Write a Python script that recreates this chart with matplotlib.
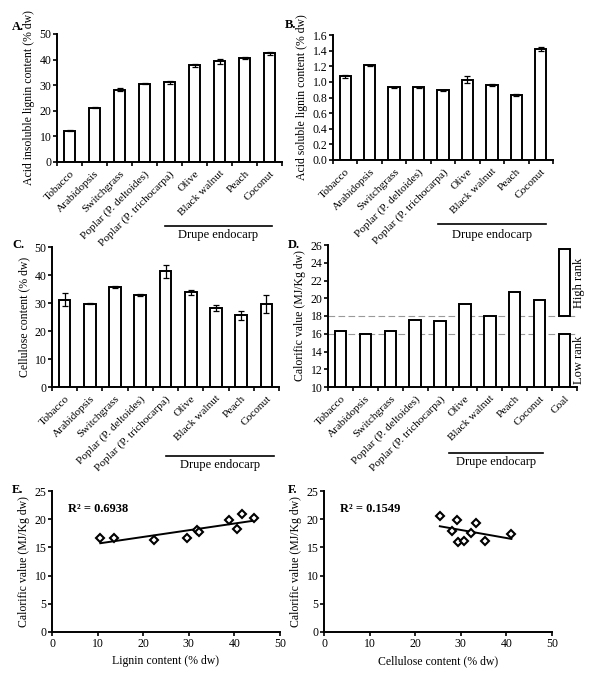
import matplotlib
matplotlib.use("Agg")
import matplotlib.pyplot as plt
import numpy as np

plt.rcParams['font.family'] = ['Liberation Serif', 'DejaVu Serif']

species = ["Tobacco", "Arabidopsis", "Switchgrass", "Poplar (P. deltoides)",
           "Poplar (P. trichocarpa)", "Olive", "Black walnut", "Peach", "Coconut"]
species_coal = species + ["Coal"]

lignin_insol = [12.3, 21.2, 28.3, 30.6, 31.1, 37.8, 39.3, 40.7, 42.4]
lignin_insol_err = [0.2, 0.3, 0.6, 0.2, 0.6, 0.6, 1.0, 0.3, 0.5]

lignin_sol = [1.07, 1.21, 0.93, 0.93, 0.89, 1.03, 0.96, 0.83, 1.42]
lignin_sol_err = [0.02, 0.01, 0.01, 0.01, 0.005, 0.04, 0.01, 0.01, 0.03]

cellulose = [31.2, 29.8, 35.8, 32.8, 41.3, 33.8, 28.2, 25.6, 29.7]
cellulose_err = [2.3, 0.3, 0.3, 0.3, 2.3, 1.0, 1.2, 1.6, 3.1]

calorific = [16.3, 16.0, 16.3, 17.6, 17.4, 19.4, 18.0, 20.7, 19.8]
coal_low = (10.0, 16.0)
coal_high = (18.0, 25.5)

e_lignin = [10.6, 13.6, 22.4, 29.6, 31.8, 32.3, 38.9, 40.5, 41.6, 44.2]
e_cal = [16.6, 16.6, 16.3, 16.6, 18.0, 17.8, 19.8, 18.3, 20.9, 20.2]

f_cell = [25.4, 28.0, 29.2, 29.4, 30.7, 32.3, 33.4, 35.4, 41.1]
f_cal = [20.5, 17.9, 19.8, 15.9, 16.2, 17.5, 19.4, 16.2, 17.3]

W, H = 600, 675
fig = plt.figure(figsize=(W / 100, H / 100), dpi=100)


def ax_px(l, t, r, b):
    return fig.add_axes([l / W, 1 - b / H, (r - l) / W, (b - t) / H])


TICK_FS = 8.5
CAT_FS = 8.2
LAB_FS = 8.5


def style(ax):
    for s in ['top', 'right']:
        ax.spines[s].set_visible(False)
    for s in ['left', 'bottom']:
        ax.spines[s].set_linewidth(1.4)
    ax.tick_params(axis='both', which='both', direction='out', width=1.2,
                   length=3, labelsize=TICK_FS, pad=1)


def bar_panel(ax, cats, vals, errs, ylim, yticks, yfmt):
    n = len(cats)
    x = np.arange(len(vals))
    ax.bar(x, vals, width=0.46, color='white', edgecolor='black', linewidth=1.4,
           zorder=2)
    if errs is not None:
        ax.errorbar(x, vals, yerr=errs, fmt='none', ecolor='black',
                    elinewidth=0.9, capsize=2.2, capthick=0.9, zorder=3)
    ax.set_xlim(-0.5, n - 0.5)
    ax.set_ylim(*ylim)
    ax.set_yticks(yticks)
    ax.set_yticklabels([yfmt.format(v) for v in yticks])
    ax.set_xticks(np.arange(n))
    ax.set_xticklabels(cats, rotation=45, ha='right', rotation_mode='anchor',
                       fontsize=CAT_FS)
    ax.set_xticks(np.arange(n + 1) - 0.5, minor=True)
    style(ax)
    ax.tick_params(axis='x', which='major', length=0, pad=5, labelsize=CAT_FS)
    ax.tick_params(axis='x', which='minor', length=3)


def drupe(ax, x0, x1, yl, yt):
    tr = matplotlib.transforms.blended_transform_factory(ax.transData, ax.transAxes)
    ax.plot([x0, x1], [yl, yl], color='black', lw=1.2, transform=tr, clip_on=False)
    ax.text((x0 + x1) / 2, yt, "Drupe endocarp", transform=tr, ha='center',
            va='center', fontsize=9)


# A
axA = ax_px(57, 34, 282, 162)
bar_panel(axA, species, lignin_insol, lignin_insol_err, (0, 50),
          [0, 10, 20, 30, 40, 50], "{:.0f}")
axA.set_ylabel("Acid insoluble lignin content (% dw)", fontsize=LAB_FS, labelpad=3)
drupe(axA, 3.8, 8.1, -0.5, -0.57)
fig.text(12 / W, 1 - 27 / H, "A.", fontsize=9, fontweight='bold', va='center')

# B
axB = ax_px(333, 35, 553, 160)
bar_panel(axB, species, lignin_sol, lignin_sol_err, (0, 1.6),
          [0.0, 0.2, 0.4, 0.6, 0.8, 1.0, 1.2, 1.4, 1.6], "{:.1f}")
axB.set_ylabel("Acid soluble lignin content (% dw)", fontsize=LAB_FS, labelpad=3)
drupe(axB, 3.8, 8.2, -0.51, -0.6)
fig.text(285 / W, 1 - 25 / H, "B.", fontsize=9, fontweight='bold', va='center')

# C
axC = ax_px(52, 247, 279, 387)
bar_panel(axC, species, cellulose, cellulose_err, (0, 50),
          [0, 10, 20, 30, 40, 50], "{:.0f}")
axC.set_ylabel("Cellulose content (% dw)", fontsize=LAB_FS, labelpad=3)
drupe(axC, 4.0, 8.3, -0.49, -0.56)
fig.text(12 / W, 1 - 245 / H, "C.", fontsize=9, fontweight='bold', va='center')

# D
axD = ax_px(328, 245, 577, 387)
bar_panel(axD, species_coal, calorific + [0], None, (10, 26),
          list(range(10, 27, 2)), "{:.0f}")
axD.bar([len(calorific)], [coal_low[1] - coal_low[0]], bottom=[coal_low[0]],
        width=0.46, color='white', edgecolor='black', linewidth=1.4, zorder=2)
axD.bar([len(calorific)], [coal_high[1] - coal_high[0]], bottom=[coal_high[0]],
        width=0.46, color='white', edgecolor='black', linewidth=1.4, zorder=2)
for yv in (coal_low[1], coal_high[0]):
    axD.axhline(yv, color='#999999', lw=0.8, ls=(0, (6, 3)), zorder=1)
axD.text(len(calorific) + 0.6, (coal_low[0] + coal_low[1]) / 2, "Low rank",
         rotation=90, ha='center', va='center', fontsize=9, clip_on=False)
axD.text(len(calorific) + 0.6, (coal_high[0] + coal_high[1]) / 2, "High rank",
         rotation=90, ha='center', va='center', fontsize=9, clip_on=False)
axD.set_ylabel("Calorific value (MJ/Kg dw)", fontsize=LAB_FS, labelpad=3)
drupe(axD, 4.35, 8.15, -0.465, -0.53)
fig.text(288 / W, 1 - 245 / H, "D.", fontsize=9, fontweight='bold', va='center')


def scatter_panel(ax, xs, ys, r2text, xlabel):
    ax.plot(xs, ys, ls='none', marker='D', markersize=4.3, mfc='white',
            mec='black', mew=1.5, zorder=3)
    p = np.polyfit(xs, ys, 1)
    xx = np.array([min(xs), max(xs)])
    ax.plot(xx, np.polyval(p, xx), color='black', lw=1.4, zorder=2)
    ax.set_xlim(0, 50)
    ax.set_ylim(0, 25)
    ax.set_xticks([0, 10, 20, 30, 40, 50])
    ax.set_yticks([0, 5, 10, 15, 20, 25])
    style(ax)
    ax.set_xlabel(xlabel, fontsize=LAB_FS, labelpad=4)
    ax.set_ylabel("Calorific value (MJ/Kg dw)", fontsize=LAB_FS, labelpad=3)
    ax.text(0.07, 0.875, r2text, transform=ax.transAxes, fontsize=9,
            fontweight='bold', ha='left', va='center')


axE = ax_px(52, 491, 280, 632)
scatter_panel(axE, e_lignin, e_cal, "R² = 0.6938", "Lignin content (% dw)")
fig.text(12 / W, 1 - 490 / H, "E.", fontsize=9, fontweight='bold', va='center')

axF = ax_px(324, 491, 552, 632)
scatter_panel(axF, f_cell, f_cal, "R² = 0.1549", "Cellulose content (% dw)")
fig.text(288 / W, 1 - 490 / H, "F.", fontsize=9, fontweight='bold', va='center')

fig.savefig("out.png", dpi=100, facecolor='white')
